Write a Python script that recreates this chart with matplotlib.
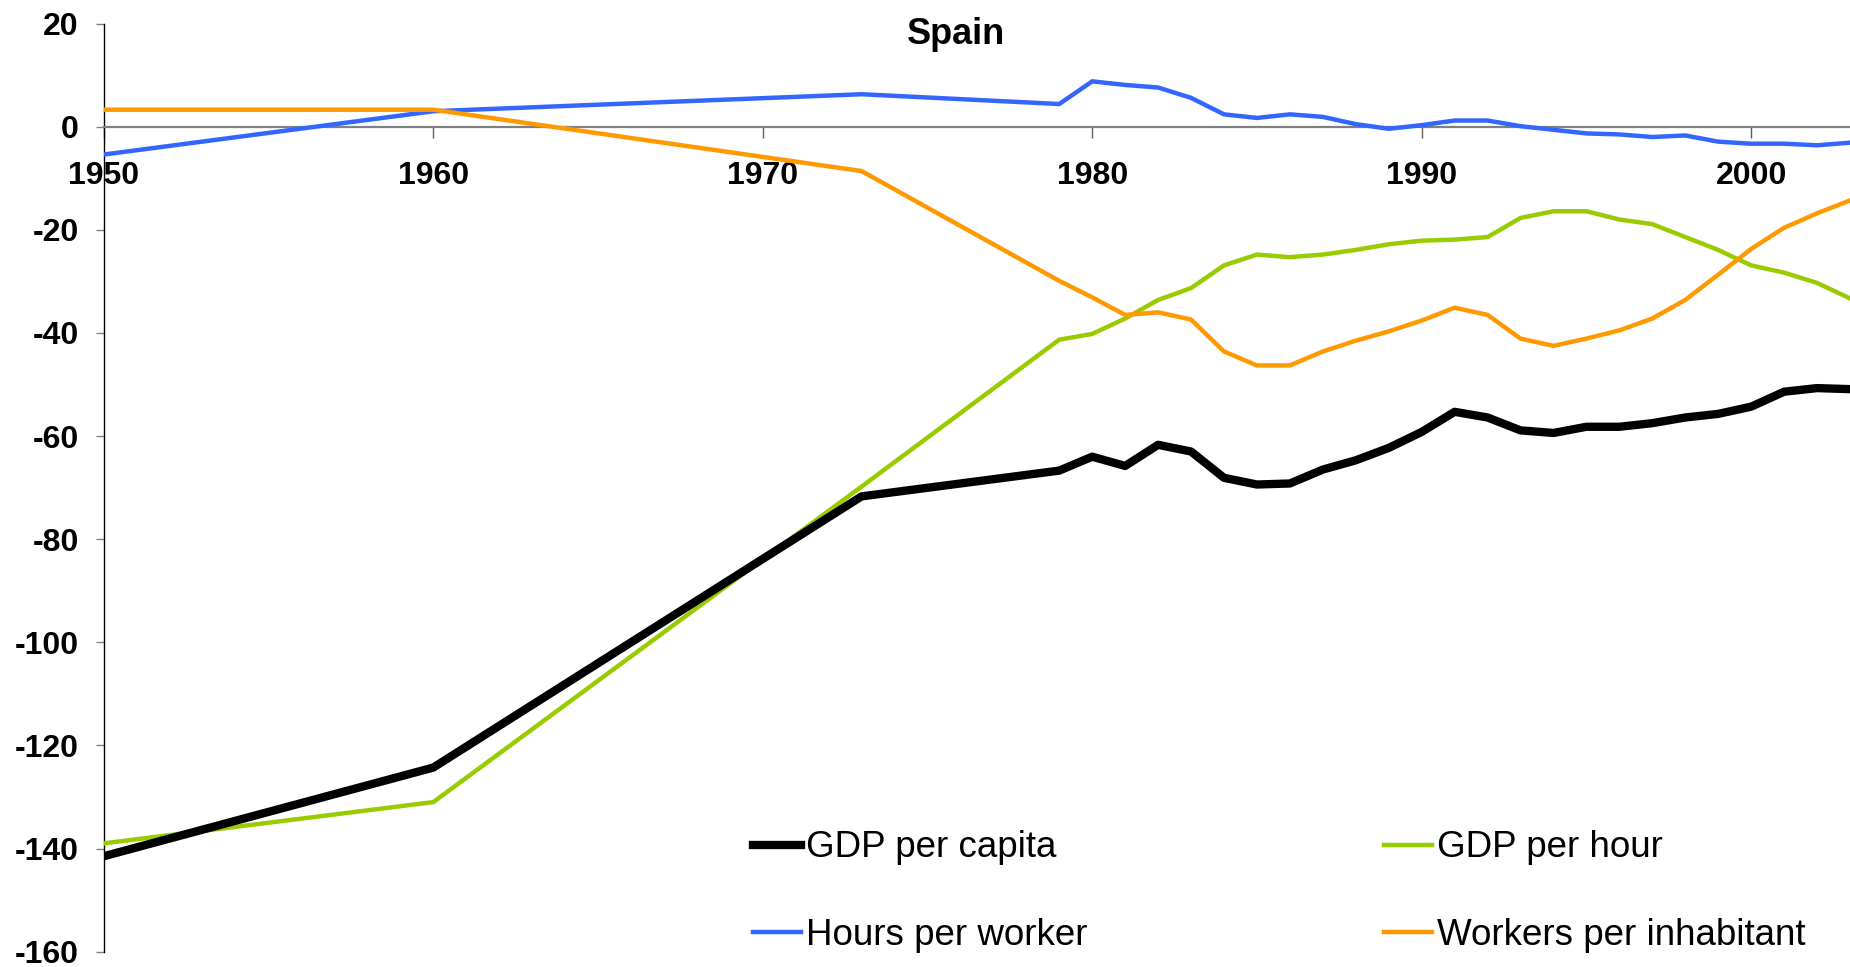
import matplotlib
matplotlib.use("Agg")
import matplotlib.pyplot as plt

plt.rcParams['font.family'] = ['Liberation Sans', 'DejaVu Sans']
plt.rcParams['axes.unicode_minus'] = False

years = [1950, 1960, 1973, 1979, 1980, 1981, 1982, 1983, 1984, 1985, 1986, 1987,
         1988, 1989, 1990, 1991, 1992, 1993, 1994, 1995, 1996, 1997, 1998, 1999,
         2000, 2001, 2002, 2003]

gdp_capita = [-141.5, -124.3, -71.7, -66.7, -64.0, -65.8, -61.7, -63.0, -68.1, -69.4,
              -69.2, -66.5, -64.7, -62.3, -59.2, -55.3, -56.4, -58.9, -59.4, -58.2,
              -58.2, -57.5, -56.4, -55.7, -54.3, -51.4, -50.7, -50.9]

gdp_hour = [-139.0, -131.0, -69.8, -41.3, -40.2, -37.2, -33.6, -31.3, -26.9, -24.8,
            -25.3, -24.8, -23.9, -22.8, -22.1, -21.9, -21.4, -17.7, -16.4, -16.4,
            -18.0, -18.9, -21.4, -23.9, -26.9, -28.3, -30.3, -33.3]

hours_worker = [-5.4, 3.0, 6.3, 4.4, 8.8, 8.1, 7.6, 5.6, 2.4, 1.7,
                2.4, 1.9, 0.5, -0.4, 0.3, 1.2, 1.2, 0.1, -0.6, -1.3,
                -1.5, -2.0, -1.7, -2.9, -3.3, -3.3, -3.6, -3.1]

workers_inh = [3.3, 3.3, -8.6, -29.9, -33.1, -36.5, -36.0, -37.4, -43.6, -46.3,
               -46.3, -43.6, -41.5, -39.7, -37.6, -35.1, -36.5, -41.1, -42.5, -41.1,
               -39.5, -37.2, -33.6, -28.7, -23.7, -19.6, -16.8, -14.3]

fig = plt.figure(figsize=(18.5, 9.67), dpi=100)
ax = fig.add_axes([0.0561, 0.0159, 1 - 0.0561, 0.9756 - 0.0159])

l1, = ax.plot(years, gdp_capita, color='black', lw=6, label='GDP per capita', zorder=5)
l2, = ax.plot(years, gdp_hour, color='#99CC00', lw=3.2, label='GDP per hour', zorder=4)
l3, = ax.plot(years, hours_worker, color='#3366FF', lw=3.2, label='Hours per worker', zorder=4)
l4, = ax.plot(years, workers_inh, color='#FF9900', lw=3.2, label='Workers per inhabitant', zorder=4)

ax.set_xlim(1950, 2003)
ax.set_ylim(-160, 20)
ax.set_yticks(range(-160, 21, 20))
ax.set_xticks(range(1950, 2001, 10))

ax.spines['top'].set_visible(False)
ax.spines['right'].set_visible(False)
ax.spines['left'].set_color('black')
ax.spines['left'].set_linewidth(1.0)
ax.spines['bottom'].set_position(('data', 0))
ax.spines['bottom'].set_color('#808080')
ax.spines['bottom'].set_linewidth(1.6)

ax.tick_params(axis='y', direction='out', length=6, width=1, color='#808080', pad=12,
               labelsize=23)
ax.tick_params(axis='x', direction='out', length=8, width=1, color='#606060', pad=17,
               labelsize=23)
for lab in ax.get_xticklabels() + ax.get_yticklabels():
    lab.set_fontweight('bold')

fig.text(0.5166, 0.964, 'Spain', ha='center', va='center', fontsize=26, fontweight='bold')

leg1 = ax.legend(handles=[l1, l3], loc='center left', bbox_to_anchor=(0.397, 0.078),
                 bbox_transform=fig.transFigure, frameon=False, fontsize=26.5,
                 handlelength=1.3, handletextpad=0.15, borderpad=0, labelspacing=1.42)
ax.add_artist(leg1)
ax.legend(handles=[l2, l4], loc='center left', bbox_to_anchor=(0.738, 0.078),
          bbox_transform=fig.transFigure, frameon=False, fontsize=26.5,
          handlelength=1.3, handletextpad=0.15, borderpad=0, labelspacing=1.42)

fig.savefig('out.png', dpi=100)
